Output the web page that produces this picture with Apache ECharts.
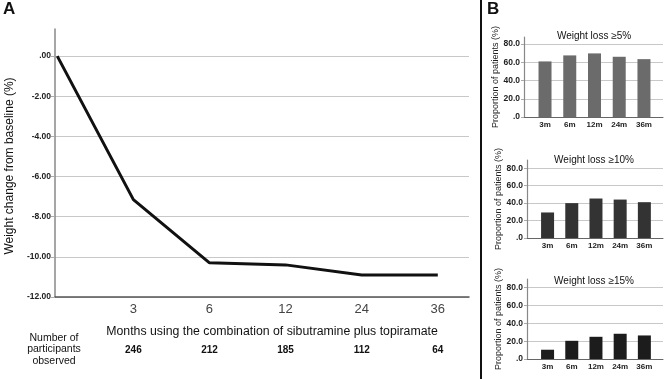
<!DOCTYPE html>
<html>
<head>
<meta charset="utf-8">
<script src="https://cdn.jsdelivr.net/npm/echarts@6/dist/echarts.min.js"></script>
<style>
  html, body { margin: 0; padding: 0; background: #fff; }
  #chart { width: 669px; height: 379px; }
</style>
</head>
<body>
<div id="chart"></div>
<script>
// panel A
const monthLabels = ['0', '3', '6', '12', '24', '36']
const weightChange = [0, -7.15, -10.3, -10.4, -10.9, -10.9]
const participantCounts = ['', '246', '212', '185', '112', '64']
const yTicksA = [-12, -10, -8, -6, -4, -2, 0]

// panel B
const barCategories = ['3m', '6m', '12m', '24m', '36m']
const loss5 = [61.0, 67.6, 69.8, 66.1, 63.5]
const loss10 = [29.3, 40.0, 45.3, 44.1, 41.1]
const loss15 = [10.4, 20.4, 24.9, 28.3, 26.4]
const barTitles = ['Weight loss \u22655%', 'Weight loss \u226510%', 'Weight loss \u226515%']
const yTicksB = [0, 20, 40, 60, 80]

const FONT = '"Liberation Sans", Arial, sans-serif'
const chart = echarts.init(document.getElementById('chart'))

const barSets = [loss5, loss10, loss15]
const barColors = ['#6b6b6b', '#333333', '#1c1c1c']
const barGrids = [
  { left: 524, right: 6, top: 37, bottom: 262, max: 87.8 },
  { left: 527, right: 6, top: 160, bottom: 141, max: 89.5 },
  { left: 527, right: 6, top: 279, bottom: 20, max: 89.7 }
]
const titleTops = [26, 150, 271]

const fmtB = v => (v === 0 ? '.0' : v.toFixed(1))
const fmtA = v => (v === 0 ? '.00' : v.toFixed(2))

const grids = [{ left: 55, right: 200, top: 29, bottom: 82, outerBoundsMode: 'none', containLabel: false }]
const xAxes = [
  {
    gridIndex: 0,
    type: 'value',
    min: -0.03,
    max: 5.41,
    axisLine: { onZero: false, lineStyle: { color: '#555', width: 1.5 } },
    axisTick: { show: false },
    splitLine: { show: false },
    axisLabel: {
      customValues: [1, 2, 3, 4, 5],
      formatter: v => monthLabels[v],
      color: '#444',
      fontFamily: FONT,
      fontSize: 13,
      margin: 6
    },
    name: 'Months using the combination of sibutramine plus topiramate',
    nameLocation: 'middle',
    nameGap: 29,
    nameTextStyle: { color: '#111', fontFamily: FONT, fontSize: 12.3, padding: [0, 0, 0, 20] }
  },
  {
    gridIndex: 0,
    type: 'value',
    position: 'bottom',
    offset: 40,
    min: -0.03,
    max: 5.41,
    axisLine: { show: false, onZero: false },
    axisTick: { show: false },
    splitLine: { show: false },
    axisLabel: {
      customValues: [1, 2, 3, 4, 5],
      formatter: v => participantCounts[v],
      color: '#111',
      fontFamily: FONT,
      fontSize: 10,
      fontWeight: 'bold'
    }
  }
]
const yAxes = [
  {
    gridIndex: 0,
    type: 'value',
    min: -12,
    max: 1.35,
    interval: 2,
    axisLine: { show: true, onZero: false, lineStyle: { color: '#888', width: 1.5 } },
    axisTick: { show: true, length: 4, customValues: yTicksA, lineStyle: { color: '#aaa' } },
    splitLine: { lineStyle: { color: '#c8c8c8', width: 1 } },
    axisLabel: {
      customValues: yTicksA,
      formatter: fmtA,
      color: '#222',
      fontFamily: FONT,
      fontSize: 8.5,
      fontWeight: 'bold',
      margin: 4
    },
    name: 'Weight change from baseline (%)',
    nameLocation: 'middle',
    nameGap: 39,
    nameMoveOverlap: false,
    nameTextStyle: { color: '#111', fontFamily: FONT, fontSize: 12, padding: [0, 6, 0, 0] }
  }
]
const series = [
  {
    type: 'line',
    xAxisIndex: 0,
    yAxisIndex: 0,
    symbol: 'none',
    lineStyle: { color: '#111', width: 3 },
    data: weightChange.map((v, i) => [i, v])
  }
]

barGrids.forEach((g, k) => {
  grids.push({ left: g.left, right: g.right, top: g.top, bottom: g.bottom, outerBoundsMode: 'none', containLabel: false })
  xAxes.push({
    gridIndex: k + 1,
    type: 'value',
    min: -0.85,
    max: 4.77,
    axisLine: { onZero: false, lineStyle: { color: '#666', width: 1 } },
    axisTick: { show: false },
    splitLine: { show: false },
    axisLabel: {
      customValues: [0, 1, 2, 3, 4],
      formatter: v => barCategories[v],
      color: '#222',
      fontFamily: FONT,
      fontSize: 8,
      fontWeight: 'bold',
      margin: 4
    }
  })
  yAxes.push({
    gridIndex: k + 1,
    type: 'value',
    min: 0,
    max: g.max,
    interval: 20,
    axisLine: { show: true, onZero: false, lineStyle: { color: '#888', width: 1.2 } },
    axisTick: { show: true, length: 3, customValues: yTicksB, lineStyle: { color: '#aaa' } },
    splitLine: { lineStyle: { color: '#c8c8c8' } },
    axisLabel: {
      customValues: yTicksB,
      formatter: fmtB,
      color: '#222',
      fontFamily: FONT,
      fontSize: 8.5,
      fontWeight: 'bold',
      margin: 4
    },
    name: 'Proportion of patients (%)',
    nameLocation: 'middle',
    nameGap: 24,
    nameTextStyle: { color: '#222', fontFamily: FONT, fontSize: 9 }
  })
  series.push({
    type: 'bar',
    xAxisIndex: k + 2,
    yAxisIndex: k + 1,
    barWidth: 13,
    itemStyle: { color: barColors[k] },
    data: barSets[k].map((v, i) => [i, v])
  })
})

chart.setOption({
  backgroundColor: '#fff',
  animation: false,
  title: barTitles.map((t, k) => ({
    text: t,
    left: 589,
    top: titleTops[k],
    textAlign: 'center',
    textStyle: { color: '#111', fontFamily: FONT, fontSize: 10, fontWeight: 'normal' }
  })),
  grid: grids,
  xAxis: xAxes,
  yAxis: yAxes,
  series: series,
  graphic: [
    {
      type: 'text', left: 3, top: 1,
      style: { text: 'A', font: 'bold 17px ' + FONT, fill: '#111' }
    },
    {
      type: 'text', left: 487, top: 1,
      style: { text: 'B', font: 'bold 17px ' + FONT, fill: '#111' }
    },
    {
      type: 'rect',
      shape: { x: 480, y: 0, width: 2, height: 379 },
      style: { fill: '#111' }
    },
    {
      type: 'text', x: 54, y: 332,
      style: {
        text: 'Number of\nparticipants\nobserved',
        font: '10.5px ' + FONT,
        lineHeight: 11.5,
        fill: '#111',
        align: 'center'
      }
    }
  ]
})
</script>
</body>
</html>
